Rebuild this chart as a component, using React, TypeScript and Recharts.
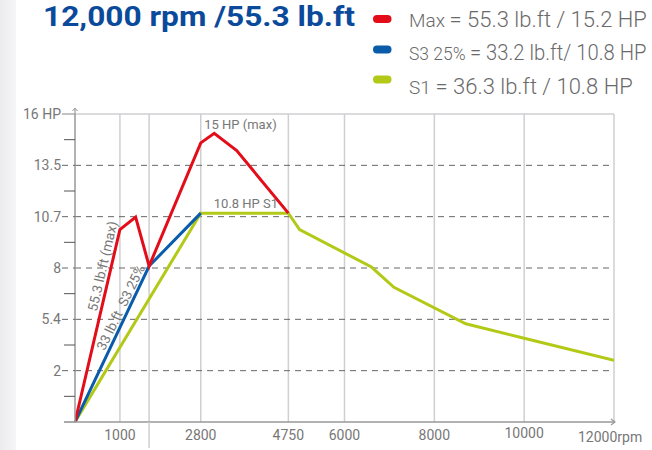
import React from "react";
import { LineChart, Line, XAxis, YAxis, ReferenceLine, ReferenceDot } from "recharts";

// ---- data ----
const maxRpm = [0, 1000, 1350, 1650, 2800, 3100, 3600, 4750];
const maxHp = [0, 10.0, 10.65, 8.1, 14.5, 15.0, 14.1, 10.85];
const s3Rpm = [0, 1650, 2800];
const s3Hp = [0, 8.1, 10.85];
const s1Rpm = [0, 2800, 4750, 5000, 6600, 7100, 8700, 10000, 12000];
const s1Hp = [0, 10.85, 10.85, 10.0, 8.05, 7.0, 5.1, 4.35, 3.2];

const xTicks = [1000, 1650, 2800, 4750, 6000, 8000, 10000, 12000];
const xTickLabels = ["1000", "", "2800", "4750", "6000", "8000", "10000", "12000rpm"];
const yTicks = [0, 1.333, 2.667, 4, 5.333, 6.667, 8, 9.333, 10.667, 12, 13.333, 14.667, 16];
const yTickLabels = ["", "", "2", "", "5.4", "", "8", "", "10.7", "", "13.5", "", "16 HP"];

const titleText = "12,000 rpm /55.3 lb.ft";
const legendNames = ["Max", "S3 25%", "S1"];
const legendValues = ["= 55.3 lb.ft / 15.2 HP", "= 33.2 lb.ft/ 10.8 HP", "= 36.3 lb.ft / 10.8 HP"];
const seriesColors = ["#e30d1a", "#0a5cab", "#b3c918"];

const annoRpm = [3100, 2800, 808, 1212];
const annoHp = [15.0, 10.85, 8.1, 5.95];
const annoText = ["15 HP (max)", "10.8 HP S1", "55.3 lb.ft (max)", "33 lb.ft  S3 25%"];

const toRows = (xs: number[], ys: number[]) => xs.map((rpm, i) => ({ rpm, hp: ys[i] }));
const maxData = toRows(maxRpm, maxHp);
const s3Data = toRows(s3Rpm, s3Hp);
const s1Data = toRows(s1Rpm, s1Hp);

const FONT = "Roboto, 'Noto Sans', sans-serif";
const TXT = "#777";

const XTick = (props: any) => {
  const { x, y, payload } = props;
  const i = xTicks.indexOf(payload.value);
  const label = xTickLabels[i];
  if (label === "") {
    return <line x1={x} x2={x} y1={y} y2={y + 26} stroke="#cfcfd3" strokeWidth={1.5} />;
  }
  const last = i === xTicks.length - 1;
  return (
    <g>
      {last && (
        <path d={`M${x - 3},${y - 3} L${x + 1},${y} L${x - 3},${y + 3}`} fill="none" stroke="#999" strokeWidth={1.2} />
      )}
      <text
        x={last ? x - 36 : x}
        y={last ? y + 20 : label === "10000" ? y + 16 : y + 18}
        textAnchor={last ? "start" : "middle"}
        fontSize={14}
        fontFamily={FONT}
        fill={TXT}
      >
        {label}
      </text>
    </g>
  );
};

const YTick = (props: any) => {
  const { x, y, payload } = props;
  const i = yTicks.indexOf(payload.value);
  const label = yTickLabels[i];
  if (label === "") {
    return <line x1={x - 11} x2={x} y1={y} y2={y} stroke="#555" strokeWidth={1} />;
  }
  const top = i === yTicks.length - 1;
  return (
    <g>
      {top ? (
        <g>
          <line x1={x - 13} x2={x} y1={y} y2={y} stroke="#999" strokeWidth={1.2} />
          <line x1={x} x2={x} y1={y} y2={y - 5} stroke="#999" strokeWidth={1.2} />
          <path d={`M${x - 2.5},${y - 3} L${x},${y - 6} L${x + 2.5},${y - 3}`} fill="none" stroke="#999" strokeWidth={1} />
        </g>
      ) : (
        <line x1={x - 13} x2={x} y1={y} y2={y} stroke="#666" strokeWidth={1} strokeDasharray="6 5" />
      )}
      <text x={x - 14} y={y + 5} textAnchor="end" fontSize={14} fontFamily={FONT} fill={TXT}>
        {label}
      </text>
    </g>
  );
};

const annoShape = (k: number) => (p: any) => {
  const { cx, cy } = p;
  if (k === 0)
    return (
      <text x={cx - 10} y={cy - 4} fontSize={13} fontFamily={FONT} fill={TXT}>
        {annoText[k]}
      </text>
    );
  if (k === 1)
    return (
      <text x={cx + 13} y={cy - 5} fontSize={13} fontFamily={FONT} fill={TXT}>
        {annoText[k]}
      </text>
    );
  const ang = k === 2 ? -77 : -64;
  const tx = cx - 9;
  return (
    <text
      x={tx}
      y={cy}
      textAnchor="middle"
      dominantBaseline="central"
      transform={`rotate(${ang} ${tx} ${cy})`}
      fontSize={13.5}
      fontFamily={FONT}
      fill={TXT}
      style={{ whiteSpace: "pre" }}
    >
      {annoText[k]}
    </text>
  );
};

export default function App() {
  return (
    <div
      style={{
        position: "absolute",
        left: 0,
        top: 0,
        width: 652,
        height: 450,
        background: "#fff",
        overflow: "hidden",
        fontFamily: FONT,
      }}
    >
      <div
        style={{
          position: "absolute",
          left: 0,
          top: 0,
          width: 16,
          height: 450,
          background: "linear-gradient(to right, #ececef, #f5f5f7)",
        }}
      />
      <div style={{ position: "absolute", left: 0, top: 0 }}>
        <LineChart width={652} height={450} margin={{ top: 114, right: 38, bottom: 0, left: 15 }}>
          <XAxis
            type="number"
            dataKey="rpm"
            domain={[0, 12000]}
            ticks={xTicks}
            interval={0}
            tick={<XTick />}
            tickLine={false}
            tickSize={0}
            tickMargin={0}
            height={28}
            axisLine={{ stroke: "#999", strokeWidth: 1.5 }}
            allowDataOverflow
          />
          <YAxis
            type="number"
            domain={[0, 16]}
            ticks={yTicks}
            interval={0}
            tick={<YTick />}
            tickLine={false}
            tickSize={0}
            tickMargin={0}
            width={60}
            axisLine={{ stroke: "#999", strokeWidth: 1.5 }}
            allowDataOverflow
          />
          {xTicks.map((v) => (
            <ReferenceLine key={"vx" + v} x={v} stroke="#cfcfd3" strokeWidth={1.5} />
          ))}
          {yTicks
            .filter((_, i) => yTickLabels[i] !== "" && i !== yTicks.length - 1)
            .map((v) => (
              <ReferenceLine key={"hy" + v} y={v} stroke="#666" strokeWidth={1} strokeDasharray="6 5" />
            ))}
          <ReferenceLine y={16} stroke="#cfcfd3" strokeWidth={1.5} />
          <Line data={s1Data} dataKey="hp" type="linear" stroke={seriesColors[2]} strokeWidth={3} dot={false} isAnimationActive={false} />
          <Line data={s3Data} dataKey="hp" type="linear" stroke={seriesColors[1]} strokeWidth={3} dot={false} isAnimationActive={false} />
          <Line data={maxData} dataKey="hp" type="linear" stroke={seriesColors[0]} strokeWidth={3} dot={false} isAnimationActive={false} />
          {annoRpm.map((r, k) => (
            <ReferenceDot key={"a" + k} x={r} y={annoHp[k]} r={0} shape={annoShape(k)} />
          ))}
        </LineChart>
      </div>
      <svg width={652} height={120} style={{ position: "absolute", left: 0, top: 0, pointerEvents: "none" }}>
        <text x={43} y={26} fontSize={28} fontWeight={700} fill="#0b4a9b" fontFamily={FONT} textLength={312} lengthAdjust="spacingAndGlyphs">
          {titleText}
        </text>
        {legendNames.map((n, i) => {
          const cy = [19, 49.5, 79.5][i];
          const base = [26.5, 59.5, 93.5][i];
          const sx = [1.0, 0.92, 1.0][i];
          return (
            <g key={n}>
              <rect x={373} y={cy - 4} width={18.5} height={8} rx={4} fill={seriesColors[i]} />
              <g transform={`translate(409 ${base}) scale(${sx} 1)`}>
                <text x={0} y={0} fill="#6a6a6a" fontFamily={FONT} fontWeight={300}>
                  <tspan fontSize={19}>{n + " "}</tspan>
                  <tspan fontSize={22}>{legendValues[i]}</tspan>
                </text>
              </g>
            </g>
          );
        })}
      </svg>
    </div>
  );
}
